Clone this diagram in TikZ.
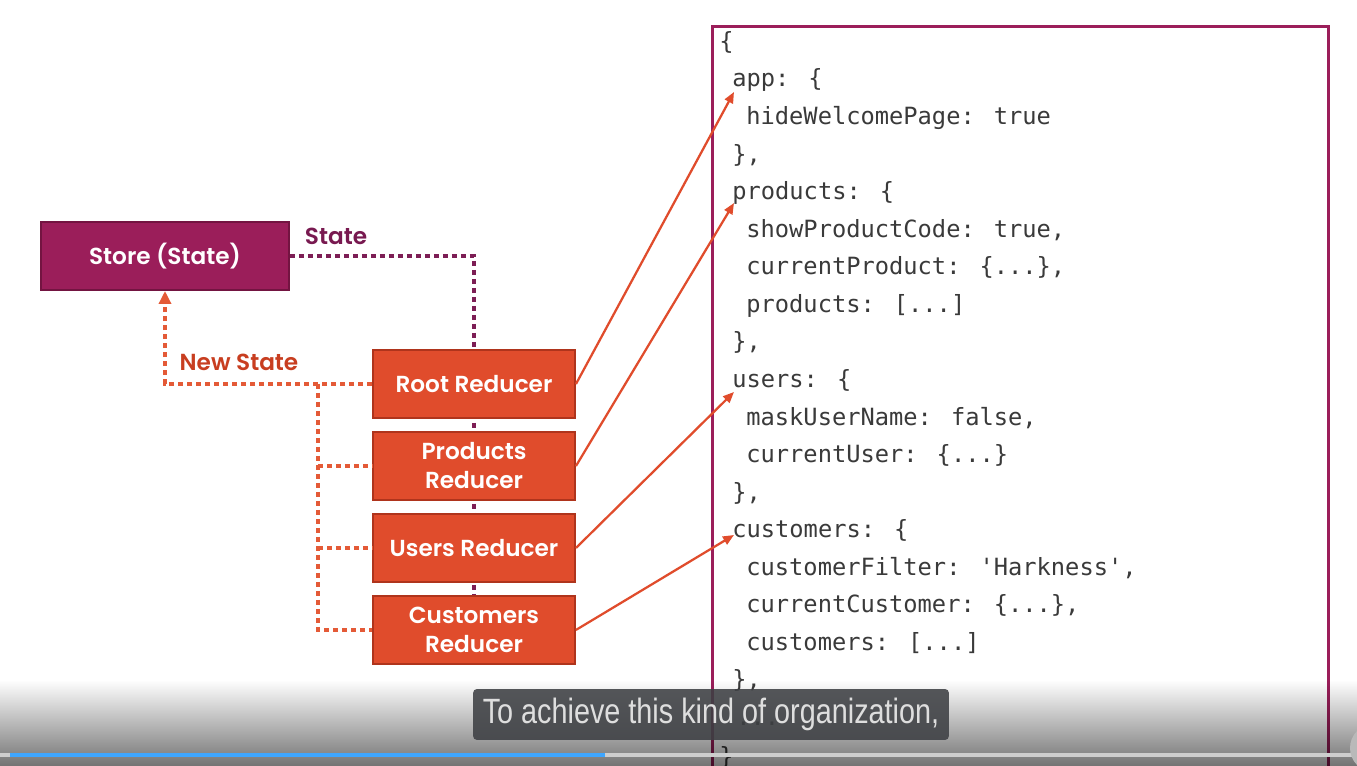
\documentclass[tikz,border=0pt]{standalone}
\usepackage{fontspec}
\newfontfamily\boxfont[BoldFont=Poppins SemiBold]{Poppins}
\newfontfamily\codefont[Ligatures=TeXOff]{DejaVu Sans Mono}
\newfontfamily\subfont{Liberation Sans}
\usetikzlibrary{arrows.meta,positioning,calc,backgrounds,fadings}
\definecolor{morado}{RGB}{155,30,90}
\definecolor{moradoborde}{RGB}{115,20,65}
\definecolor{moradodot}{RGB}{125,30,85}
\definecolor{moradotxt}{RGB}{120,25,80}
\definecolor{rojo}{RGB}{224,76,44}
\definecolor{rojoborde}{RGB}{175,52,28}
\definecolor{rojodot}{RGB}{228,90,55}
\definecolor{rojotxt}{RGB}{200,62,32}
\definecolor{codigo}{RGB}{58,58,58}
\definecolor{subgris}{RGB}{62,64,68}
\definecolor{subtxt}{RGB}{222,222,222}
\definecolor{barraazul}{RGB}{62,166,255}
\definecolor{barragris}{RGB}{205,205,205}
\tikzfading[name=velo,top color=transparent!100,bottom color=transparent!45]

\begin{document}
\begin{tikzpicture}[x=0.02cm,y=-0.02cm,
reducer/.style={draw=rojoborde,line width=0.04cm,fill=rojo,text=white,minimum width=4.04cm,minimum height=1.36cm,align=center,font=\boxfont\bfseries\fontsize{13.2}{16.5}\selectfont},
storebox/.style={reducer,draw=moradoborde,fill=morado,minimum width=4.96cm},
lbl/.style={font=\boxfont\bfseries\fontsize{13.2}{15}\selectfont},
statedot/.style={draw=moradodot,line width=0.08cm,dash pattern=on 0.1cm off 0.08cm},
newdot/.style={draw=rojodot,line width=0.08cm,dash pattern=on 0.1cm off 0.08cm},
arr/.style={-{Triangle[length=0.22cm,width=0.18cm]},draw=rojo,line width=0.045cm},
code/.style={anchor=base west,inner sep=0pt,text=codigo,font=\codefont\fontsize{13.5}{16}\selectfont},
subbox/.style={fill=subgris,fill opacity=0.88,text opacity=1,rounded corners=0.08cm,minimum width=9.52cm,minimum height=1.02cm,text=subtxt,font=\subfont\fontsize{20}{24}\selectfont}
]
\useasboundingbox (0,0) rectangle (1357,766);
\clip (0,0) rectangle (1357,766);

% left side
\node[storebox] (store) at (165,256) {Store (State)};
\node[reducer] (rootred) at (474,384) {Root Reducer};
\node[reducer,below=0.24cm of rootred] (prodred) {Products\\Reducer};
\node[reducer,below=0.24cm of prodred] (userred) {Users Reducer};
\node[reducer,below=0.24cm of userred] (custred) {Customers\\Reducer};
\node[lbl,text=moradotxt] (statelbl) at (336,236) {State};
\node[lbl,text=rojotxt] (newlbl) at (239,362) {New State};

\begin{scope}[on background layer]
\fill[white] (0,0) rectangle (1357,766);
\draw[statedot] (store.east) -| (custred.north);
\end{scope}

\draw[newdot,-{Triangle[length=0.26cm,width=0.24cm]}] (rootred.west) -| (store.south);
\coordinate (bus) at (318,384);
\draw[newdot] (bus) |- (custred.west);
\draw[newdot] (bus |- prodred.west) -- (prodred.west);
\draw[newdot] (bus |- userred.west) -- (userred.west);

% state tree
\draw[draw=morado,line width=0.06cm] (712,27) rectangle (1328,800);
\node[code] (kopen) at (719,50) {\{};
\node[code] (kapp) at (732,87) {app: \{};
\node[code] at (746,125) {hideWelcomePage: true};
\node[code] at (732,163) {\},};
\node[code] (kprod) at (732,200) {products: \{};
\node[code] at (746,238) {showProductCode: true,};
\node[code] at (746,275) {currentProduct: \{...\},};
\node[code] at (746,313) {products: [...]};
\node[code] at (732,350) {\},};
\node[code] (kusers) at (732,388) {users: \{};
\node[code] at (746,426) {maskUserName: false,};
\node[code] at (746,463) {currentUser: \{...\}};
\node[code] at (732,501) {\},};
\node[code] (kcust) at (732,538) {customers: \{};
\node[code] at (746,576) {customerFilter: 'Harkness',};
\node[code] at (746,613) {currentCustomer: \{...\},};
\node[code] at (746,651) {customers: [...]};
\node[code] at (732,688) {\},};
\node[code] at (736,726) {...};
\node[code] (kclose) at (719,765) {\}};

\draw[arr] (rootred.east) -- ([shift={(2,5)}]kapp.base west);
\draw[arr] (prodred.east) -- ([shift={(2,3)}]kprod.base west);
\draw[arr] (userred.east) -- ([shift={(2,4)}]kusers.base west);
\draw[arr] (custred.east) -- ([shift={(2,-3)}]kcust.base west);

% player overlay
\fill[black,path fading=velo] (0,680) rectangle (1357,766);
\fill[barragris] (0,753) rectangle (1357,757);
\fill[barraazul] (10,753) rectangle (605,757);
\fill[gray!55] (1374,748) circle (24);
\node[subbox] (subt) at (711,714.5) {\scalebox{0.82}[1]{To achieve this kind of organization,}};
\end{tikzpicture}
\end{document}
